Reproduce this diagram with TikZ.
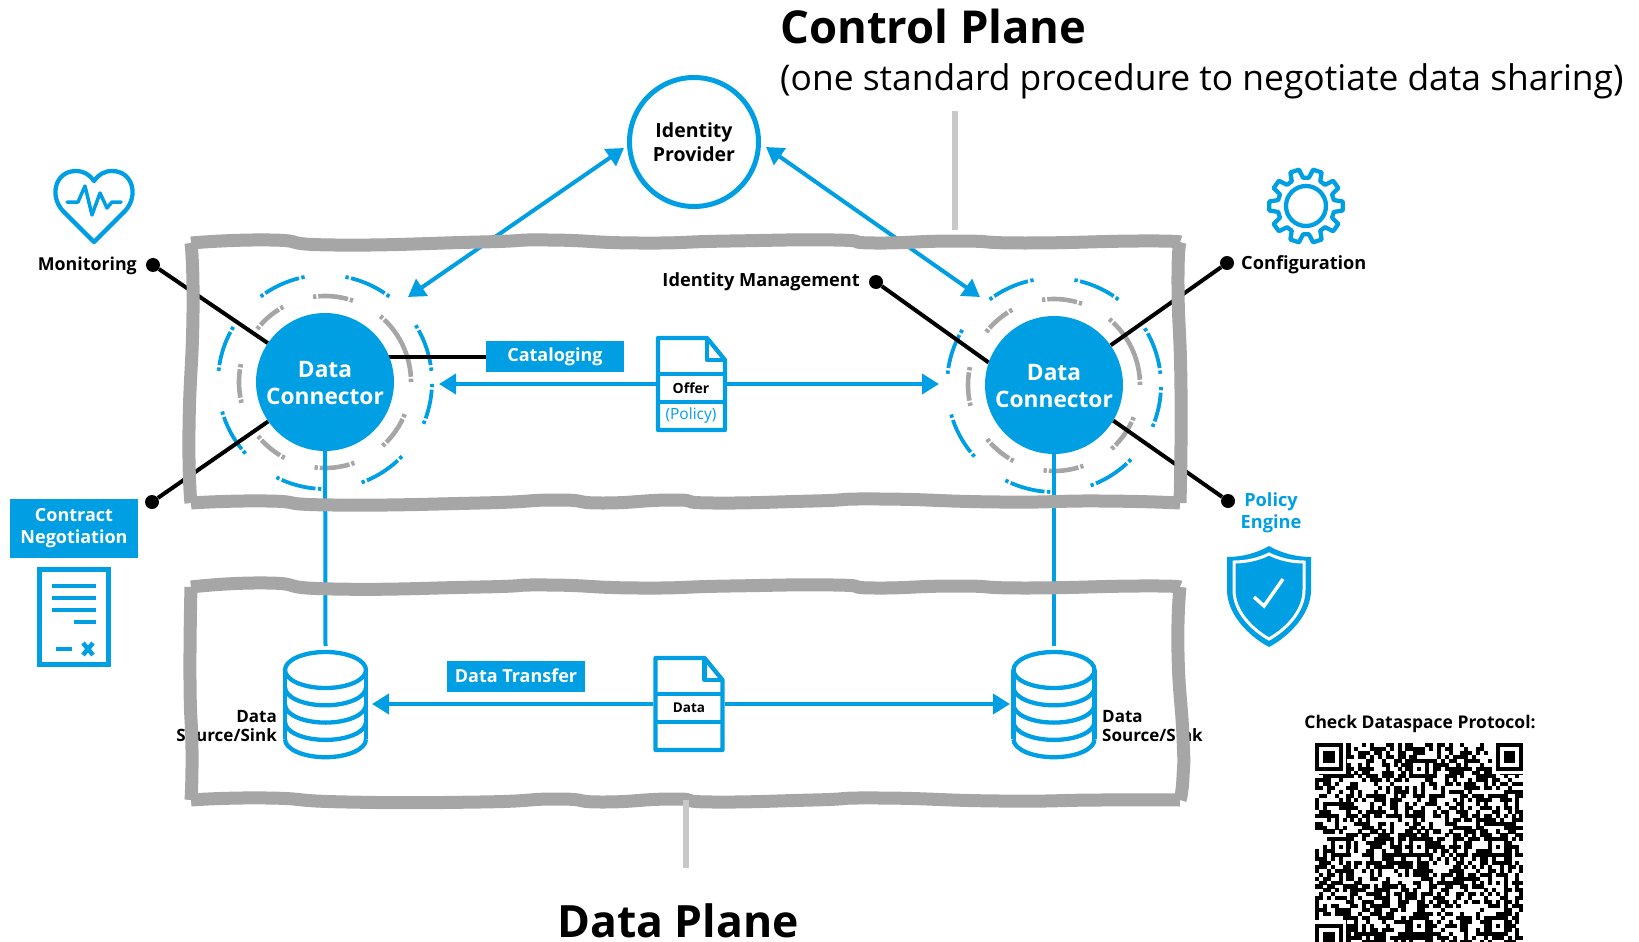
\documentclass[tikz,border=0pt]{standalone}
\usepackage{fontspec}
\setmainfont{Open Sans}
\usetikzlibrary{arrows.meta,calc}
\definecolor{edcblue}{HTML}{009FE3}
\definecolor{framegray}{HTML}{A6A6A6}
\definecolor{tickgray}{HTML}{C8C8C8}
\pgfdeclarelayer{bglayer}\pgfdeclarelayer{fglayer}\pgfsetlayers{bglayer,main,fglayer}
\newcommand\fsz[1]{\fontsize{#1}{#1}\selectfont}
\newcommand\rarc[6]{% color, radius, from, to, dot size, width
  \pgfmathsetmacro\aA{#3-#5}\pgfmathsetmacro\aB{#3-#5-1.3}\pgfmathsetmacro\aC{#4+#5+1.3}\pgfmathsetmacro\aD{#4+#5}
  \draw[#1,line width=#6pt] (#3:#2pt) arc[start angle=#3,end angle=\aA,radius=#2pt];
  \draw[#1,line width=#6pt] (\aB:#2pt) arc[start angle=\aB,end angle=\aC,radius=#2pt];
  \draw[#1,line width=#6pt] (\aD:#2pt) arc[start angle=\aD,end angle=#4,radius=#2pt];
}
\newcommand\ba[2]{\rarc{edcblue}{107}{#1}{#2}{1.8}{3.8}}
\newcommand\ga[2]{\rarc{framegray}{86}{#1}{#2}{2.2}{4.6}}
\newcommand\ringset{%
  \ba{127}{101}\ba{79}{53}\ba{32}{6}\ba{-1}{-23}\ba{-44}{-70}\ba{-92}{-117}\ba{-138}{-164}\ba{174}{149}
  \ga{98}{71}\ga{50}{0}\ga{-22}{-48}\ga{-70}{-97}\ga{-118}{-141}\ga{-166}{-192}\ga{142}{119}
}
\newcommand\dbicon[1]{%
  \draw[iconline] (#1,670) ellipse[x radius=40.5pt,y radius=18pt];
  \draw[iconline] (#1-40.5,670) -- (#1-40.5,739) (#1+40.5,670) -- (#1+40.5,739);
  \foreach \k in {1,2,3,4}{\draw[iconline] (#1-40.5,670+\k*17.3) arc[start angle=180,end angle=360,x radius=40.5pt,y radius=18pt];}
}
\newcommand\docicon[2]{% left, top (stroke centres)
  \draw[iconline,fill=white,line join=round] (#1,#2) -- (#1+49,#2) -- (#1+67,#2+22) -- (#1+67,#2+92) -- (#1,#2+92) -- cycle;
  \draw[iconline,line join=round] (#1+49,#2) -- (#1+49,#2+22) -- (#1+67,#2+22);
  \draw[iconline] (#1,#2+36) -- (#1+67,#2+36) (#1,#2+64) -- (#1+67,#2+64);
}
\newcommand\finder[2]{%
  \fill[white] (#1-1,#2-1) rectangle ++(9,9);
  \fill[black] (#1,#2) rectangle ++(7,7);
  \fill[white] (#1+1,#2+1) rectangle ++(5,5);
  \fill[black] (#1+2,#2+2) rectangle ++(3,3);
}
\newcommand\alignp[2]{%
  \fill[black] (#1-2,#2-2) rectangle ++(5,5);
  \fill[white] (#1-1,#2-1) rectangle ++(3,3);
  \fill[black] (#1,#2) rectangle ++(1,1);
}
\tikzset{
  every node/.style={inner sep=0pt,font=\bfseries},
  iconline/.style={draw=edcblue,line width=4.3pt},
  blueline/.style={draw=edcblue,line width=4pt},
  bluearrow/.style={blueline,-{Triangle[length=17pt,width=20pt]}},
  bluedouble/.style={blueline,{Triangle[length=17pt,width=20pt]}-{Triangle[length=17pt,width=20pt]}},
  blackline/.style={draw=black,line width=4pt},
  dotnode/.style={circle,fill=black,minimum size=14pt},
  frameline/.style={draw=framegray,line width=13pt,line cap=square},
  tick/.style={draw=tickgray,line width=6pt},
  tag/.style={fill=edcblue,text=white,font=\bfseries\fsz{18},align=center,inner sep=0pt},
  connector/.style={circle,fill=edcblue,text=white,minimum size=138pt,align=center,font=\bfseries\fsz{22.7}},
  lab/.style={text=black,font=\bfseries\fsz{18.2},align=center},
  srclab/.style={text=black,font=\bfseries\fsz{17},align=center},
}
\begin{document}
\begin{tikzpicture}[x=1pt,y=-1pt]
\useasboundingbox (0,0) rectangle (1639,942);
% main nodes
\node[draw=edcblue,line width=5pt,circle,minimum size=129pt,align=center,font=\bfseries\fsz{19.5},text=black] (idp) at (694,142) {Identity\\[4pt]Provider};
\node[connector] (dcL) at (325,382) {\rule{0pt}{18.5pt}Data\\[4.5pt]Connector};
\node[connector] (dcR) at (1054,385) {\rule{0pt}{18.5pt}Data\\[4.5pt]Connector};
\node[tag,minimum width=138pt,minimum height=31pt] (cat) at (555,356.5) {Cataloging};
\node[tag,minimum width=138pt,minimum height=31pt] (trans) at (516,676) {Data Transfer};
\node[tag,minimum width=128pt,minimum height=59pt] (contract) at (74,528.5) {Contract\\[4pt]Negotiation};
% dots
\node[dotnode] (dmon) at (153,265) {};
\node[dotnode] (dcon) at (152,502) {};
\node[dotnode] (didm) at (876,282) {};
\node[dotnode] (dcfg) at (1227,263) {};
\node[dotnode] (dpol) at (1228,501) {};
% labels
\node[lab,anchor=east,font=\bfseries\fsz{17.8}] (tmon) at (137,266) {Monitoring};
\node[lab,anchor=east] (tidm) at (860,282) {Identity Management};
\node[lab,anchor=west] (tcfg) at (1241,265) {Configuration};
\node[lab,text=edcblue] (tpol) at (1271,512.5) {Policy\\[4pt]Engine};
\node[srclab,anchor=east,align=right] (tsrcL) at (277,726) {Data\\[2.5pt]Source/Sink};
\node[srclab,anchor=west,align=left] (tsrcR) at (1102,726) {Data\\[2.5pt]Source/Sink};
\node[anchor=west,font=\bfseries\fsz{45.4},text=black] (tctl) at (780,26) {Control Plane};
\node[anchor=west,font=\fsz{35.4},text=black] (tsub) at (780,81) {(one standard procedure to negotiate data sharing)};
\node[font=\bfseries\fsz{44.5},text=black] (tdata) at (678,921) {Data Plane};
\node[font=\bfseries\fsz{17.5},text=black] (tqr) at (1420,724) {Check Dataspace Protocol:};
% documents
\docicon{658}{338}
\node[minimum width=71pt,minimum height=96pt] (offer) at (691.5,384) {};
\node[font=\bfseries\fsz{14},text=black] (toffer) at (691,388) {Offer};
\node[font=\fsz{15.5},text=edcblue] (tpolicy) at (691,415) {(Policy)};
\docicon{655.5}{658}
\node[minimum width=71pt,minimum height=96pt] (datadoc) at (689,704) {};
\node[font=\bfseries\fsz{13.5},text=black] (tddoc) at (689,708) {Data};
% databases
\dbicon{325.5}
\dbicon{1054}
\node[minimum width=80pt,minimum height=106pt] (dbL) at (325.5,704) {};
\node[minimum width=80pt,minimum height=106pt] (dbR) at (1054,704) {};
% free ends
\coordinate (idpa) at (624,148); \coordinate (idpb) at (766,147);
\coordinate (ringa) at (408,297); \coordinate (ringb) at (980,297);
\coordinate (offL) at (439,384); \coordinate (offR) at (939,384);
\coordinate (datL) at (372,704); \coordinate (datR) at (1010,704);
\coordinate (ctop) at (955,111); \coordinate (cbot) at (955,230);
\coordinate (dtop) at (686,800); \coordinate (dbot) at (686,868);
\coordinate (vLb) at (325.5,646); \coordinate (vRb) at (1054,646);
\begin{pgfonlayer}{bglayer}
  \begin{scope}[shift={(325,382)}]\ringset\end{scope}
  \begin{scope}[shift={(1054,385)}]\ringset\end{scope}
  \draw[blackline] (dmon) -- (dcL);
  \draw[blackline] (dcon) -- (dcL);
  \draw[blackline] (didm) -- (dcR.161.6);
  \draw[blackline] (dcfg) -- (dcR.35);
  \draw[blackline] (dpol) -- (dcR.-31);
  \draw[blackline] (cat.west) -- (cat.west -| dcL.center);
  \draw[blueline] (dcL.center) -- (vLb);
  \draw[blueline] (dcR.center) -- (vRb);
  \draw[bluedouble] (idpa) -- (ringa);
  \draw[bluedouble] (idpb) -- (ringb);
  \draw[bluearrow] (offer) -- (offL);
  \draw[bluearrow] (offer) -- (offR);
  \draw[bluearrow] (datadoc) -- (datL);
  \draw[bluearrow] (datadoc) -- (datR);
\end{pgfonlayer}
% heart
\draw[iconline,line join=round] (94,242) -- (63,211) .. controls (49,196) and (55,171) .. (76,171) .. controls (84,171) and (90,175) .. (94,181) .. controls (98,175) and (104,171) .. (112,171) .. controls (133,171) and (139,196) .. (125,211) -- cycle;
\draw[edcblue,line width=3.5pt,line join=round,line cap=round] (67,202) -- (78,202) -- (85,186) -- (92,215) -- (100,193) -- (107,208) -- (112,202) -- (121,202);
% contract doc
\draw[iconline] (39.5,569.5) rectangle (108.5,664.5);
\foreach \yy in {586,598,610}{\draw[edcblue,line width=4.5pt] (52,\yy) -- (96,\yy);}
\draw[edcblue,line width=4.5pt] (74,622) -- (96,622);
\draw[edcblue,line width=4.5pt] (56,649) -- (72,649);
\draw[edcblue,line width=4.5pt] (83,643) -- (93,655) (93,643) -- (83,655);
% gear
\begin{scope}[shift={(1306,206)}]
\draw[edcblue,line width=4.3pt,line join=round] (-7:37pt) \foreach \t in {0,36,...,324} { -- ({\t-7}:37pt) -- ({\t+7}:37pt) -- ({\t+12}:28.5pt) -- ({\t+24}:28.5pt) } -- cycle;
\draw[edcblue,line width=4.3pt] (0,0) circle[radius=20pt];
\end{scope}
% shield
\fill[edcblue] (1269,546) .. controls (1257,553) and (1242,557) .. (1227,557) -- (1227,590) .. controls (1227,615) and (1250,637) .. (1269,647) .. controls (1288,637) and (1311,615) .. (1311,590) -- (1311,557) .. controls (1296,557) and (1281,553) .. (1269,546) -- cycle;
\draw[white,line width=3pt] (1269,554) .. controls (1259,559) and (1247,562) .. (1234,562) -- (1234,590) .. controls (1234,612) and (1253,630) .. (1269,639) .. controls (1285,630) and (1304,612) .. (1304,590) -- (1304,562) .. controls (1291,562) and (1279,559) .. (1269,554) -- cycle;
\draw[white,line width=3.5pt] (1254,597) -- (1264,606) -- (1283,579);
% QR
\begin{scope}
\clip (1300,735) rectangle (1540,942);
\begin{scope}[shift={(1315,743)},x=3.93pt,y=-3.93pt]
\pgfmathsetseed{4711}
\foreach \qi in {0,...,52}{\foreach \qj in {0,...,52}{%
  \pgfmathrandominteger{\qq}{0}{1}%
  \ifnum\qq=1 \fill[black] (\qi,\qj) rectangle ++(1.03,1.03);\fi}}
\finder{0}{0}\finder{46}{0}\finder{0}{46}
\alignp{26}{6}\alignp{6}{26}\alignp{26}{26}\alignp{46}{26}\alignp{26}{46}\alignp{46}{46}
\end{scope}
\end{scope}
% frames
\begin{pgfonlayer}{fglayer}
\draw[frameline] plot[smooth,tension=1] coordinates {(191,243) (270,240) (335,245) (480,242) (548,240) (639,243) (730,241) (834,240) (875,243) (957,241) (1025,243) (1138,241) (1180,242)};
\draw[frameline] plot[smooth,tension=1] coordinates {(191,503) (267,501) (333,505) (480,503) (557,500) (603,503) (673,500) (713,503) (813,501) (880,499) (1000,502) (1100,501) (1180,503)};
\draw[frameline] plot[smooth,tension=1] coordinates {(191,243) (193,313) (189,430) (191,503)};
\draw[frameline] plot[smooth,tension=1] coordinates {(1180,242) (1178,287) (1181,390) (1180,503)};
\draw[frameline] plot[smooth,tension=1] coordinates {(191,587) (267,583) (333,589) (480,587) (548,585) (639,588) (730,586) (834,585) (875,588) (957,586) (1025,588) (1138,586) (1180,587)};
\draw[frameline] plot[smooth,tension=1] coordinates {(191,800) (267,798) (347,802) (480,802) (557,799) (603,802) (673,799) (713,802) (813,800) (880,798) (1000,801) (1100,800) (1180,800)};
\draw[frameline] plot[smooth,tension=1] coordinates {(191,587) (190,680) (192,750) (191,800)};
\draw[frameline] plot[smooth,tension=1] coordinates {(1180,587) (1178,653) (1183,737) (1183,777) (1180,800)};
\draw[tick] (ctop) -- (cbot);
\draw[tick] (dtop) -- (dbot);
\end{pgfonlayer}
\end{tikzpicture}
\end{document}
